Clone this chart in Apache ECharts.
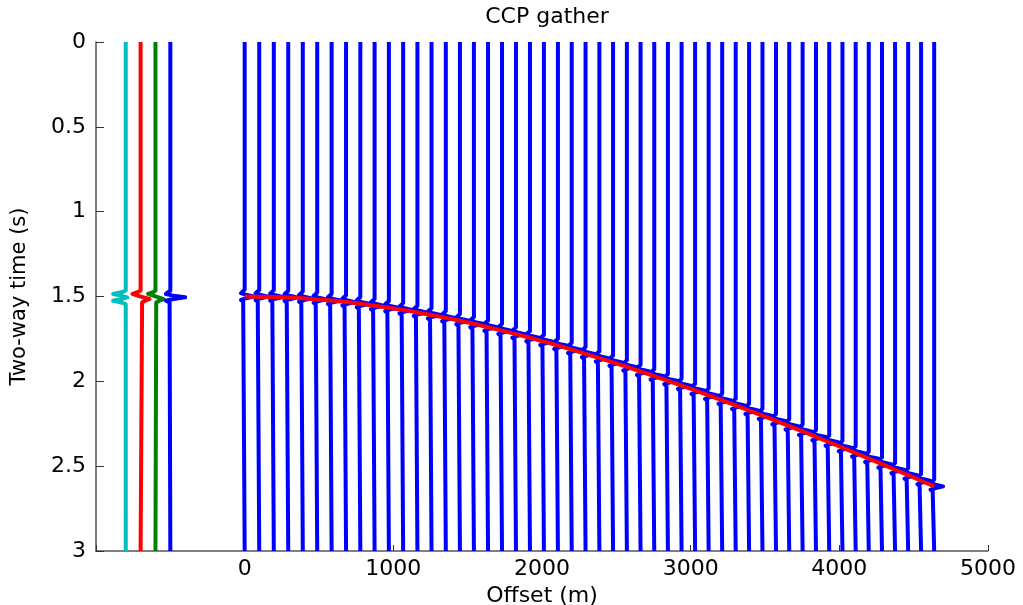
<!DOCTYPE html>
<html>
<head>
<meta charset="utf-8">
<script src="https://cdn.jsdelivr.net/npm/echarts@6/dist/echarts.min.js"></script>
<style>
  html, body { margin: 0; padding: 0; background: #fff; }
  #chart { width: 1023px; height: 605px; }
</style>
</head>
<body>
<div id="chart"></div>
<script>
// trace offsets (m) of the CCP gather and picked arrival times (s)
const offsets = [0, 98, 196, 293, 391, 488, 585, 682, 778, 874, 970, 1066, 1162, 1257, 1353, 1448,
  1542, 1637, 1731, 1825, 1919, 2013, 2107, 2200, 2293, 2386, 2478, 2571, 2663, 2755, 2847, 2939,
  3030, 3121, 3212, 3303, 3393, 3483, 3574, 3663, 3753, 3843, 3932, 4021, 4110, 4198, 4287, 4375,
  4463, 4550, 4638]
const picks = [1.500, 1.501, 1.503, 1.506, 1.511, 1.517, 1.524, 1.533, 1.543, 1.554, 1.566, 1.579,
  1.594, 1.609, 1.626, 1.643, 1.661, 1.681, 1.701, 1.722, 1.743, 1.766, 1.789, 1.813, 1.838, 1.863,
  1.888, 1.915, 1.942, 1.969, 1.997, 2.025, 2.054, 2.083, 2.112, 2.142, 2.172, 2.202, 2.233, 2.264,
  2.295, 2.327, 2.359, 2.391, 2.423, 2.455, 2.488, 2.521, 2.553, 2.586, 2.619]

// wavelet samples: time relative to arrival (s) and horizontal deflection (m)
const waveT = [-0.04, -0.03, -0.02, -0.01, 0, 0.01, 0.02, 0.03, 0.04]
const gatherAmp = [0, -10, -25, 10, 60, 10, -25, -10, 0]

// reference wavelets shown on the left
const refOffsets = [-800, -700, -600, -500]
const refColors = ['#00bfbf', '#ff0000', '#008000', '#0000ff']
const refTime = 1.505
const refAmps = [
  [0, -30, -85, -30, 10, -30, -85, -30, 0],
  [0, -20, -55, -20, 20, 60, 30, 10, 0],
  [0, -15, -50, -15, 20, 55, 25, 5, 0],
  [0, -5, -30, 20, 100, 20, -30, -5, 0]
]

const yTicks = [0, 0.5, 1, 1.5, 2, 2.5, 3]
const xTicks = [0, 1000, 2000, 3000, 4000, 5000]

function tracePoints(off, t0, amps) {
  const pts = [[off, 0]]
  waveT.forEach((dt, i) => pts.push([off + amps[i], t0 + dt]))
  pts.push([off, 3])
  return pts
}

const series = []
offsets.forEach((off, i) => {
  series.push({
    type: 'line', data: tracePoints(off, picks[i], gatherAmp),
    showSymbol: false, silent: true, z: 2,
    lineStyle: { color: '#0000ff', width: 4, join: 'round' }
  })
})
refOffsets.forEach((off, i) => {
  series.push({
    type: 'line', data: tracePoints(off, refTime, refAmps[i]),
    showSymbol: false, silent: true, z: 2,
    lineStyle: { color: refColors[i], width: 4, join: 'round' }
  })
})
series.push({
  type: 'line', data: offsets.map((o, i) => [o, picks[i]]),
  showSymbol: false, silent: true, z: 5,
  lineStyle: { color: '#ff0000', width: 4, join: 'round' }
})

const chart = echarts.init(document.getElementById('chart'))
const font = 'DejaVu Sans'
chart.setOption({
  animation: false,
  backgroundColor: '#fff',
  title: {
    text: 'CCP gather', left: 542, top: 1, textAlign: 'center',
    textStyle: { fontFamily: font, fontSize: 22, fontWeight: 'normal', color: '#000' }
  },
  grid: { left: 96, right: 35, top: 42, bottom: 54, containLabel: false, outerBoundsMode: 'none' },
  xAxis: {
    type: 'value', min: -1000, max: 5000, interval: 1000,
    name: 'Offset (m)', nameLocation: 'middle', nameGap: 28,
    nameTextStyle: { fontFamily: font, fontSize: 22, color: '#000' },
    axisLine: { onZero: false, lineStyle: { color: '#555', width: 1.5 } },
    axisTick: { inside: true, length: 6, lineStyle: { color: '#333' } },
    axisLabel: {
      fontFamily: font, fontSize: 22, color: '#000', margin: 7,
      formatter: v => (xTicks.includes(v) ? String(v) : '')
    },
    splitLine: { show: false }
  },
  yAxis: {
    type: 'value', min: 0, max: 3, interval: 0.5, inverse: true,
    name: 'Two-way time (s)', nameLocation: 'middle', nameGap: 66, nameRotate: 90,
    nameTextStyle: { fontFamily: font, fontSize: 21, color: '#000' },
    axisLine: { show: true, onZero: false, lineStyle: { color: '#555', width: 1.5 } },
    axisTick: { show: true, inside: true, length: 8, lineStyle: { color: '#333' } },
    axisLabel: {
      fontFamily: font, fontSize: 22, color: '#000', margin: 10,
      formatter: v => (yTicks.includes(v) ? String(v) : '')
    },
    splitLine: { show: false }
  },
  series: series
})
</script>
</body>
</html>
